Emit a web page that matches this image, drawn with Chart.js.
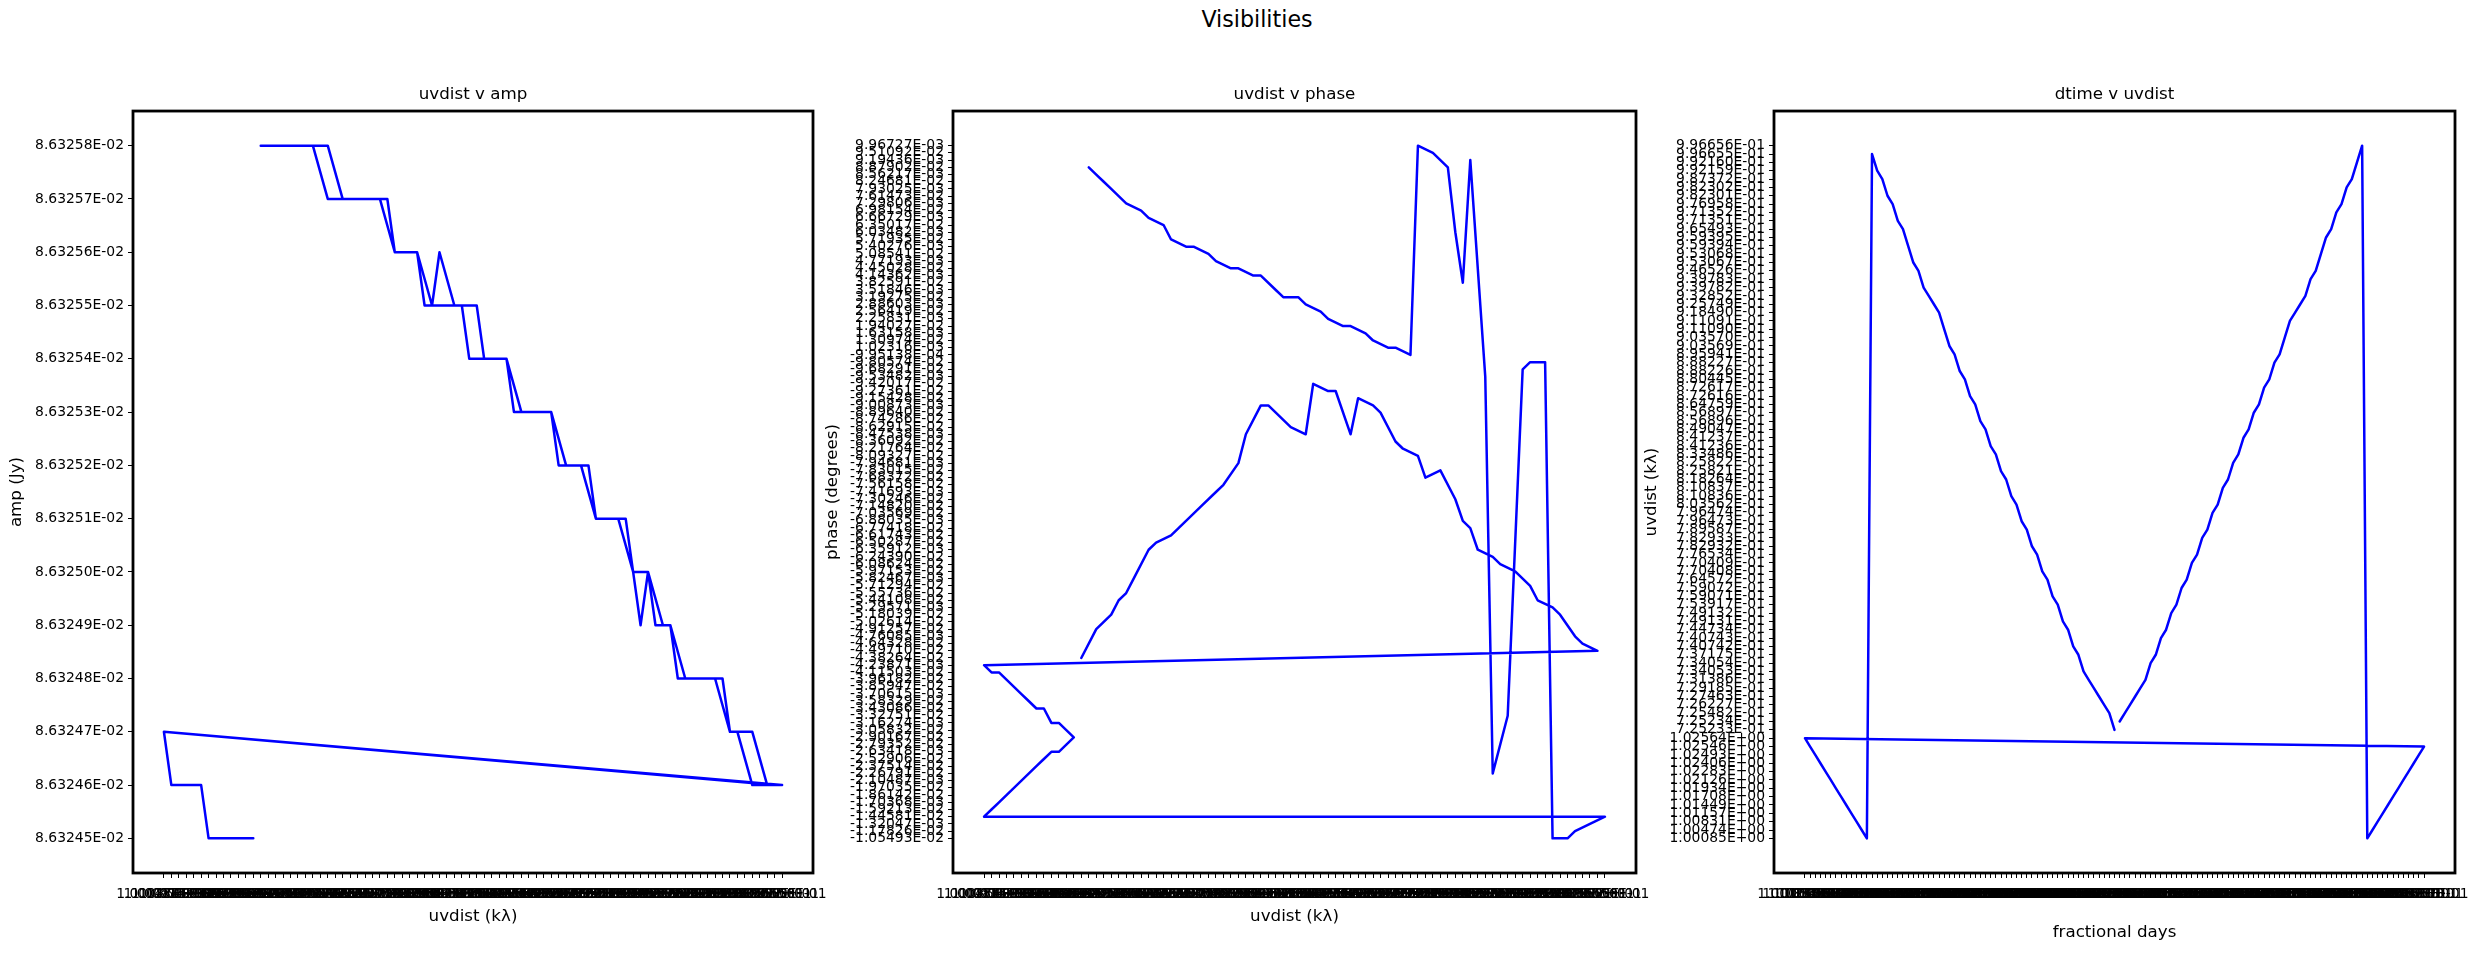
<!DOCTYPE html>
<html><head><meta charset="utf-8">
<script src="https://cdn.jsdelivr.net/npm/chart.js@4.4.1/dist/chart.umd.min.js"></script>
<style>
html,body{margin:0;padding:0;background:#fff;}
body{width:2479px;height:953px;position:relative;overflow:hidden;font-family:'DejaVu Sans',sans-serif;}
canvas{position:absolute;top:0;}
#sup{position:absolute;left:657px;width:1200px;top:6px;line-height:26px;text-align:center;font-size:22.2px;color:#000;}
</style></head><body>
<div id="sup">Visibilities</div>
<canvas id="c1" width="843" height="953" style="left:0px"></canvas>
<canvas id="c2" width="853" height="953" style="left:813px"></canvas>
<canvas id="c3" width="851" height="953" style="left:1634px"></canvas>
<script>
// ---- data: one sample per time stamp ----
const dtime = [
 0.5, 0.508333, 0.516667, 0.525, 0.533333, 0.541667, 0.55, 0.558333, 0.566667, 0.575,
 0.583333, 0.591667, 0.6, 0.608333, 0.616667, 0.625, 0.633333, 0.641667, 0.65, 0.658333,
 0.666667, 0.675, 0.683333, 0.691667, 0.7, 0.708333, 0.716667, 0.725, 0.733333, 0.741667,
 0.75, 0.758333, 0.766667, 0.775, 0.783333, 0.791667, 0.8, 0.808333, 0.816667, 0.825,
 0.833333, 0.841667, 0.85, 0.858333, 0.866667, 0.875, 0.883333, 0.891667, 0.9, 0.908333,
 0.916667, 0.925, 0.933333, 0.941667, 0.95, 0.958333, 0.966667, 0.975, 0.983333, 0.991667,
 1.0, 1.008333, 1.016667, 1.025, 1.033333, 1.041667, 1.05, 1.058333, 1.066667, 1.075,
 1.083333, 1.091667, 1.1, 1.108333, 1.116667, 1.125, 1.133333, 1.141667, 1.15, 1.158333,
 1.166667, 1.175, 1.183333, 1.191667, 1.2, 1.208333, 1.216667, 1.225, 1.233333, 1.241667,
 1.25, 1.258333, 1.266667, 1.275, 1.283333, 1.291667, 1.3, 1.308333, 1.316667, 1.325,
 1.333333, 1.341667, 1.35, 1.358333, 1.366667, 1.375, 1.383333, 1.391667, 1.4, 1.408333,
 1.416667, 1.425, 1.433333, 1.441667, 1.45, 1.458333, 1.466667, 1.475, 1.483333, 1.491667,
 1.5];

const uvdist = [
 0.725234, 0.725482, 0.726227, 0.727463, 0.729185, 0.731386, 0.734054, 0.737175, 0.740743, 0.744734,
 0.749132, 0.753917, 0.759072, 0.764572, 0.770409, 0.776534, 0.782933, 0.789587, 0.796474, 0.803562,
 0.810837, 0.818264, 0.825822, 0.833486, 0.841237, 0.849047, 0.856897, 0.864759, 0.872617, 0.880445,
 0.888227, 0.895941, 0.90357, 0.911091, 0.91849, 0.925749, 0.932852, 0.939783, 0.946526, 0.953068,
 0.959395, 0.965493, 0.971352, 0.976958, 0.982302, 0.987372, 0.99216, 0.996656, 1.00085, 1.00474,
 1.00831, 1.01157, 1.01449, 1.01708, 1.01934, 1.02126, 1.02283, 1.02406, 1.02493, 1.02546,
 1.02564, 1.02546, 1.02493, 1.02406, 1.02283, 1.02126, 1.01934, 1.01708, 1.01449, 1.01157,
 1.00831, 1.00474, 1.00085, 0.996655, 0.992159, 0.987372, 0.982301, 0.976958, 0.971351, 0.965493,
 0.959394, 0.953067, 0.946526, 0.939782, 0.932852, 0.925749, 0.91849, 0.91109, 0.903569, 0.895941,
 0.888226, 0.880445, 0.872616, 0.864759, 0.856896, 0.849047, 0.841236, 0.833486, 0.825821, 0.818264,
 0.810836, 0.803562, 0.796473, 0.789587, 0.782932, 0.776534, 0.770408, 0.764572, 0.759071, 0.753917,
 0.749131, 0.744734, 0.740742, 0.737175, 0.734053, 0.731386, 0.729185, 0.727463, 0.726227, 0.725482,
 0.725233];

const amp = [
 8.63258e-2, 8.63258e-2, 8.63258e-2, 8.63258e-2, 8.63258e-2, 8.63258e-2, 8.63258e-2, 8.63258e-2, 8.63257e-2, 8.63257e-2,
 8.63257e-2, 8.63257e-2, 8.63257e-2, 8.63256e-2, 8.63256e-2, 8.63256e-2, 8.63255e-2, 8.63256e-2, 8.63255e-2, 8.63255e-2,
 8.63255e-2, 8.63254e-2, 8.63254e-2, 8.63254e-2, 8.63253e-2, 8.63253e-2, 8.63253e-2, 8.63253e-2, 8.63252e-2, 8.63252e-2,
 8.63252e-2, 8.63251e-2, 8.63251e-2, 8.63251e-2, 8.6325e-2, 8.6325e-2, 8.6325e-2, 8.63249e-2, 8.63249e-2, 8.63248e-2,
 8.63248e-2, 8.63248e-2, 8.63248e-2, 8.63247e-2, 8.63247e-2, 8.63247e-2, 8.63246e-2, 8.63246e-2, 8.63247e-2, 8.63246e-2,
 8.63246e-2, 8.63246e-2, 8.63246e-2, 8.63246e-2, 8.63245e-2, 8.63245e-2, 8.63245e-2, 8.63245e-2, 8.63245e-2, 8.63245e-2,
 8.63245e-2, 8.63245e-2, 8.63245e-2, 8.63245e-2, 8.63245e-2, 8.63245e-2, 8.63245e-2, 8.63246e-2, 8.63246e-2, 8.63246e-2,
 8.63246e-2, 8.63246e-2, 8.63247e-2, 8.63246e-2, 8.63246e-2, 8.63246e-2, 8.63247e-2, 8.63247e-2, 8.63248e-2, 8.63248e-2,
 8.63248e-2, 8.63248e-2, 8.63249e-2, 8.63249e-2, 8.6325e-2, 8.63249e-2, 8.6325e-2, 8.63251e-2, 8.63251e-2, 8.63251e-2,
 8.63252e-2, 8.63252e-2, 8.63252e-2, 8.63253e-2, 8.63253e-2, 8.63253e-2, 8.63253e-2, 8.63254e-2, 8.63254e-2, 8.63254e-2,
 8.63254e-2, 8.63255e-2, 8.63255e-2, 8.63255e-2, 8.63255e-2, 8.63256e-2, 8.63256e-2, 8.63256e-2, 8.63257e-2, 8.63257e-2,
 8.63257e-2, 8.63257e-2, 8.63257e-2, 8.63257e-2, 8.63258e-2, 8.63258e-2, 8.63258e-2, 8.63258e-2, 8.63258e-2, 8.63258e-2,
 8.63258e-2];

const phase = [
 0.0887902, 0.00856217, 0.0824681, 0.00793025, 0.0761473, 0.00729806, 0.0698154, 0.00666729, 0.0635017, 0.0571935,
 0.00540276, 0.00540276, 0.0508541, 0.00477193, 0.0445028, 0.0445028, 0.00414362, 0.00414362, 0.00351846, 0.0319275,
 0.0319275, 0.00288603, 0.0256419, 0.00225831, 0.0194027, 0.0194027, 0.00163158, 0.0130974, 0.00102316, 0.00102316,
 -0.000995138, 0.00996727, 0.0951092, 0.0887902, 0.00603482, 0.0382591, 0.00919436, -0.00953482, -0.0226791, -0.0332751,
 -0.0968291, -0.0980574, -0.0980574, -0.0105493, -0.0105493, -0.0117826, -0.00132047, -0.0144581, -0.0144581, -0.0159213,
 -0.00170368, -0.0186142, -0.0197035, -0.00210487, -0.0226791, -0.0237514, -0.0252906, -0.00263418, -0.00263418, -0.0279352,
 -0.0290167, -0.0305832, -0.00316274, -0.00316274, -0.0343086, -0.0343086, -0.0358329, -0.00370615, -0.0385947, -0.0396182,
 -0.0411503, -0.0411503, -0.00423871, -0.044971, -0.0464328, -0.00476085, -0.0518039, -0.00529571, -0.0544108, -0.0571294,
 -0.0597153, -0.0608624, -0.062439, -0.00635912, -0.0677418, -0.00688035, -0.0730246, -0.0783015, -0.0768372, -0.0809327,
 -0.0821764, -0.0836092, -0.088964, -0.00900873, -0.0915428, -0.00847538, -0.0927361, -0.0927361, -0.0942017, -0.00847538,
 -0.0862915, -0.0874286, -0.00900873, -0.00900873, -0.00847538, -0.00794681, -0.0756158, -0.00741693, -0.071482, -0.0703569,
 -0.0677418, -0.0661743, -0.0650287, -0.00635912, -0.00582467, -0.0555736, -0.0544108, -0.0518039, -0.0502614, -0.0491257,
 -0.0438264];

// ---- values are plotted as text categories (like the source plot): "%.5E" strings, sorted ----
function fmtE(v) {
  const s = v.toExponential(5);
  const i = s.indexOf('e');
  let e = s.slice(i + 1);
  const sign = e[0] === '-' ? '-' : '+';
  e = e.replace(/^[+-]/, '');
  return s.slice(0, i) + 'E' + sign + (e.length < 2 ? '0' + e : e);
}
const categoriesOf = arr => [...new Set(arr.map(fmtE))].sort();
const uvLabels = categoriesOf(uvdist);      // tick labels, uvdist (kλ)
const ampLabels = categoriesOf(amp);        // tick labels, amp (Jy)
const phaseLabels = categoriesOf(phase);    // tick labels, phase (degrees)
const timeLabels = categoriesOf(dtime);     // tick labels, fractional days

const FONT = "'DejaVu Sans', sans-serif";
const TICK = 13.9, LABEL = 16.7;

function catAxis(labels, horizontal, title, titlePad, size) {
  const n = labels.length - 1;
  return {
    type: 'linear',
    position: horizontal ? 'bottom' : 'left',
    bounds: 'data',
    min: -0.05 * n,
    max: 1.05 * n,
    afterBuildTicks: s => { s.ticks = labels.map((_, i) => ({ value: i })); },
    afterFit: s => { if (horizontal) s.height = size; else s.width = size; },
    ticks: {
      autoSkip: false, maxRotation: 0, minRotation: 0, color: '#000',
      padding: horizontal ? 8 : 4,
      font: { family: FONT, size: TICK },
      callback: v => labels[v]
    },
    grid: { drawOnChartArea: false, drawTicks: true, tickLength: 5, tickWidth: 1, tickColor: '#000', color: '#000' },
    border: { display: false },
    title: { display: true, text: title, color: '#000', font: { family: FONT, size: LABEL }, padding: titlePad }
  };
}

const frame = {
  id: 'frame',
  afterDraw(chart) {
    const { ctx, chartArea: a } = chart;
    ctx.save();
    ctx.strokeStyle = '#000';
    ctx.lineWidth = 2.8;
    ctx.strokeRect(a.left, a.top, a.right - a.left, a.bottom - a.top);
    ctx.restore();
  }
};

function makeChart(id, title, xAxis, yAxis, xs, ys, xLabels, yLabels) {
  const pts = xs.map((v, i) => ({ x: xLabels.indexOf(fmtE(v)), y: yLabels.indexOf(fmtE(ys[i])) }));
  return new Chart(document.getElementById(id), {
    type: 'scatter',
    data: { datasets: [{ data: pts, showLine: true, borderColor: '#0000ff', backgroundColor: '#0000ff',
      borderWidth: 2.5, pointRadius: 0, pointHoverRadius: 0, tension: 0, fill: false,
      borderJoinStyle: 'round', borderCapStyle: 'round' }] },
    options: {
      responsive: false, animation: false, devicePixelRatio: 1,
      layout: { padding: { left: 0, right: 30, top: 0, bottom: 0 } },
      scales: { x: xAxis, y: yAxis },
      plugins: {
        legend: { display: false },
        tooltip: { enabled: false },
        title: { display: true, text: title, fullSize: false, color: '#000',
          font: { family: FONT, size: LABEL, weight: 'normal' }, padding: { top: 85, bottom: 6 } }
      }
    },
    plugins: [frame]
  });
}

makeChart('c1', 'uvdist v amp',
  catAxis(uvLabels, true, 'uvdist (k\u03bb)', { top: 0, bottom: 26 }, 80),
  catAxis(ampLabels, false, 'amp (Jy)', { top: 7, bottom: 0 }, 133),
  uvdist, amp, uvLabels, ampLabels);

makeChart('c2', 'uvdist v phase',
  catAxis(uvLabels, true, 'uvdist (k\u03bb)', { top: 0, bottom: 26 }, 80),
  catAxis(phaseLabels, false, 'phase (degrees)', { top: 10, bottom: 0 }, 140),
  uvdist, phase, uvLabels, phaseLabels);

makeChart('c3', 'dtime v uvdist',
  catAxis(timeLabels, true, 'fractional days', { top: 0, bottom: 10 }, 80),
  catAxis(uvLabels, false, 'uvdist (k\u03bb)', { top: 8, bottom: 0 }, 140),
  dtime, uvdist, timeLabels, uvLabels);
</script>
</body></html>
